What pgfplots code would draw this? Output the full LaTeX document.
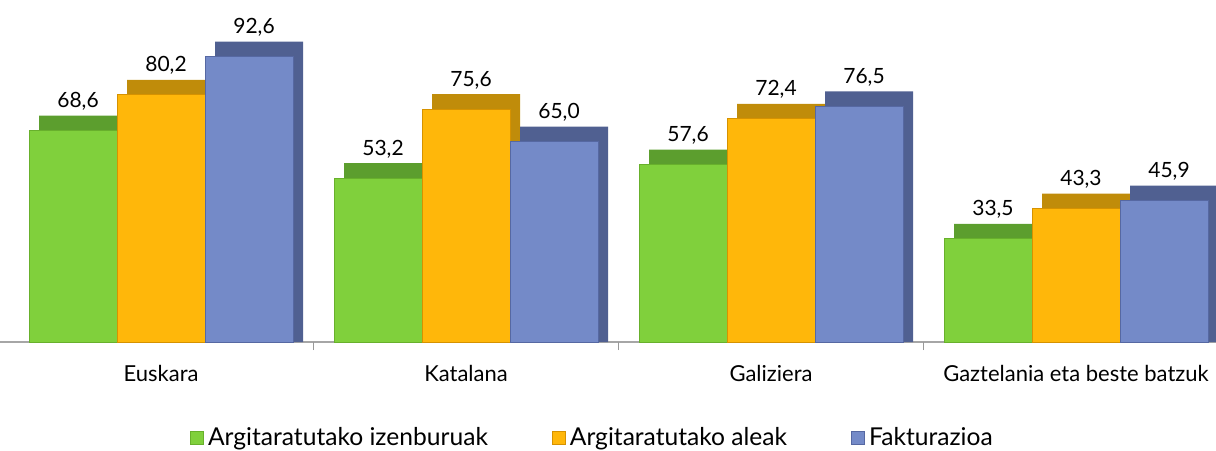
\documentclass[border=0pt]{standalone}
\usepackage{pgfplots}
\pgfplotsset{compat=1.18}
\usepackage{pgfplotstable}
\usepackage{fontspec}
\setmainfont{Lato}

\definecolor{grF}{RGB}{128,208,60}
\definecolor{grB}{RGB}{104,176,44}
\definecolor{grT}{RGB}{92,158,46}
\definecolor{orF}{RGB}{255,183,10}
\definecolor{orB}{RGB}{214,146,0}
\definecolor{orT}{RGB}{192,140,10}
\definecolor{blF}{RGB}{116,138,200}
\definecolor{blB}{RGB}{86,104,162}
\definecolor{blT}{RGB}{80,96,145}

% x: 0 Euskara, 1 Katalana, 2 Galiziera, 3 Gaztelania eta beste batzuk
\pgfplotstableread{
x izen aleak fakt
0 68.6 80.2 92.6
1 53.2 75.6 65.0
2 57.6 72.4 76.5
3 33.5 43.3 45.9
}\datatable

\pgfplotsset{
  vlabel/.style={
    nodes near coords={\pgfmathprintnumber[fixed,fixed zerofill,precision=1,use comma]{\pgfplotspointmeta}},
    every node near coord/.append style={font=\fontsize{10.5}{12}\selectfont,
      anchor=base, yshift=11.5pt, xshift=#1, inner sep=0pt, text=black,
      /pgf/number format/assume math mode=true}},
}

\begin{document}
\begin{tikzpicture}
\begin{axis}[
  scale only axis, width=608pt, height=171pt,
  xmin=-0.528, xmax=3.459, ymin=0, ymax=111,
  clip=false,
  axis x line*=bottom, axis y line=none,
  axis line style={-, draw=black!35, line width=1pt},
  xtick={0,1,2,3},
  xticklabels={Euskara,Katalana,Galiziera,Gaztelania eta beste batzuk},
  major tick length=0pt,
  xticklabel style={font=\fontsize{11}{13}\selectfont, yshift=-8pt},
  extra x ticks={0.5,1.5,2.5}, extra x tick labels={},
  extra x tick style={major tick length=4pt, tick align=outside,
    tick style={draw=black!40, line width=0.6pt}},
  legend style={at={(0.488,0)}, anchor=center, yshift=-48pt, draw=none,
    legend columns=3, font=\fontsize{12.3}{14}\selectfont,
    /tikz/every even column/.append style={column sep=30pt}},
  legend image code/.code={\draw[#1, line width=0.5pt] (0pt,-3.2pt) rectangle (6.5pt,3.3pt);},
]
% green
\addplot[ybar, bar width=44pt, bar shift=-39pt, fill=grT, draw=none, forget plot]
  table[x=x, y expr=\thisrow{izen}+4.87] {\datatable};
\addplot[ybar, bar width=44pt, bar shift=-44pt, fill=grF, draw=grB, line width=0.5pt, vlabel=-41.5pt]
  table[x=x, y=izen] {\datatable};
% orange
\addplot[ybar, bar width=44pt, bar shift=5pt, fill=orT, draw=none, forget plot]
  table[x=x, y expr=\thisrow{aleak}+4.87] {\datatable};
\addplot[ybar, bar width=44pt, bar shift=0pt, fill=orF, draw=orB, line width=0.5pt, vlabel=2.5pt]
  table[x=x, y=aleak] {\datatable};
% blue
\addplot[ybar, bar width=44pt, bar shift=49pt, fill=blT, draw=none, forget plot]
  table[x=x, y expr=\thisrow{fakt}+4.87] {\datatable};
\addplot[ybar, bar width=44pt, bar shift=44pt, fill=blF, draw=blB, line width=0.5pt, vlabel=46.5pt]
  table[x=x, y=fakt] {\datatable};
\legend{Argitaratutako izenburuak, Argitaratutako aleak, Fakturazioa}
\end{axis}
\pgfresetboundingbox
\path (0,-54pt) rectangle (608pt,171pt);
\end{tikzpicture}
\end{document}
